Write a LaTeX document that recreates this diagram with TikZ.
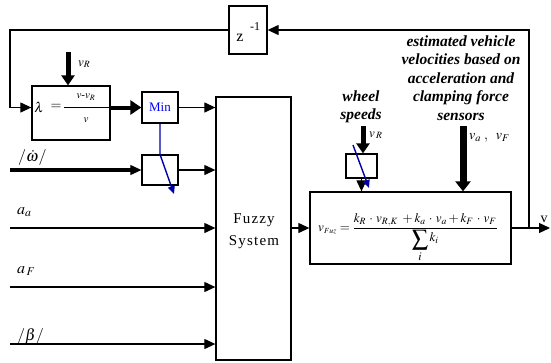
\documentclass[tikz,border=0pt]{standalone}
\usepackage{amsmath}
\usepackage{mathptmx}
\usepackage{fontspec}
\setmainfont{Liberation Serif}
\usetikzlibrary{arrows.meta,calc}

\begin{document}
\begin{tikzpicture}[x=1pt,y=-1pt,
  blk/.style={draw, line width=1.3pt, inner sep=0pt, minimum width=#1},
  wire/.style={line width=1.2pt, -{Triangle[length=11pt,width=10pt]}},
  fatwire/.style={line width=4pt, -{Triangle[length=11pt,width=14pt]}},
  feed/.style={line width=5pt, -{Triangle[length=10pt,width=13pt]}},
  sensfeed/.style={line width=7pt, -{Triangle[length=10pt,width=15pt]}},
  sel/.style={draw=blue!65!black, line width=1.4pt, -{Triangle[length=8pt,width=7pt]}},
  lbl/.style={inner sep=0pt, font=\fontsize{14}{14}\selectfont},
  note/.style={inner sep=0pt, align=center, font=\fontsize{15.5}{18.4}\selectfont\bfseries\itshape}
]
\useasboundingbox (0,0) rectangle (551,362);

% blocks
\node[blk=38pt, minimum height=48pt] (zbox) at (248,30) {};
\node[blk=78pt, minimum height=54pt] (lam) at (71,113) {};
\node[blk=36pt, minimum height=31pt, text=blue, font=\fontsize{13}{13}\selectfont] (mn) at (160,107.5) {Min};
\node[blk=36pt, minimum height=30pt] (sw1) at (160,170) {};
\node[blk=75pt, minimum height=263pt] (fz) at (253.5,228.5) {};
\node[blk=201pt, minimum height=72pt] (form) at (410.5,228) {};
\node[blk=31pt, minimum height=24pt] (wh) at (361.5,166) {};

% delay block text
\node[lbl, anchor=base] (zt) at (240,41) {\fontsize{16}{16}\selectfont z};
\node[lbl, anchor=base] (zexp) at (255,30) {\fontsize{12}{12}\selectfont -1};

% slip ratio inside the lambda block
\node[lbl] (lsym) at (39,107) {$\lambda$};
\node[lbl] (leq) at (56,107) {$=$};
\node[inner sep=0pt, font=\fontsize{11}{11}\selectfont] (lnum) at (86,97) {$v\text{-}v_R$};
\node[inner sep=0pt, font=\fontsize{11}{11}\selectfont] (lden) at (86,120) {$v$};
\coordinate (barL) at (64,107);
\draw[line width=1pt] (barL) -- (barL -| lam.east);

% fuzzy system label
\node[inner sep=0pt, align=center, font=\fontsize{15}{22}\selectfont\addfontfeature{LetterSpace=8}] (fzt) at (254,231) {Fuzzy\\System};

% fusion formula, fraction bar on the signal line
\node[inner sep=0pt, anchor=base, font=\fontsize{13}{13}\selectfont] (ft) at (408,231.3)
  {$v_{\scriptscriptstyle Fuz}=\dfrac{k_R\,\cdot\,v_{R,K}\;+k_a\,\cdot\,v_a+k_F\,\cdot\,v_F}{\raisebox{-2pt}{\fontsize{16}{16}\selectfont$\displaystyle\sum_i$}\,k_i}$};

% feedback loop
\coordinate (jn) at (529,228);
\coordinate (out) at (550,228);
\coordinate (fbL) at (10,30);
\draw[line width=1.2pt] (form.east) -- (jn);
\draw[wire] (jn) -- (out);
\draw[wire] (jn) |- (zbox.east);
\draw[wire] (zbox.west) -- (fbL) |- (mn.west -| lam.west);
\node[lbl, anchor=base] (vout) at (544,222) {v};

% lambda to min selector
\draw[fatwire] (lam.east |- mn.west) -- (mn.west);
\draw[wire] (mn.east) -- (mn.east -| fz.west);

% wheel angular acceleration input
\coordinate (wIn) at (10,170);
\draw[line width=4pt] (wIn) -- ($(sw1.west)+(-10,0)$);
\draw[wire] (wIn) -- (sw1.west);
\draw[wire] (sw1.east) -- (sw1.east -| fz.west);
\node[lbl, anchor=base west] (wl) at (18,161) {\fontsize{16}{16}\selectfont$/\dot{\omega}/$};

% selector line
\coordinate (selEnd) at (174,194);
\draw[sel] (mn.south) -- (sw1.north) -- (selEnd);

% remaining inputs
\coordinate (aaIn) at (10,228);
\coordinate (afIn) at (10,287);
\coordinate (bIn) at (10,344);
\draw[wire] (aaIn) -- (aaIn -| fz.west);
\draw[wire] (afIn) -- (afIn -| fz.west);
\draw[wire] (bIn) -- (bIn -| fz.west);
\node[lbl, anchor=base west] (aal) at (17,214) {\fontsize{16}{16}\selectfont$a_a$};
\node[lbl, anchor=base west] (afl) at (17,273) {\fontsize{16}{16}\selectfont$a_{\,F}$};
\node[lbl, anchor=base west] (bl) at (17,340) {\fontsize{16}{16}\selectfont$/\beta/$};

% reference speed into lambda block
\coordinate (vRtop) at (68,52);
\draw[feed] (vRtop) -- (vRtop |- lam.north);
\node[lbl, anchor=base west] (vRl) at (78,66) {\fontsize{13}{13}\selectfont$v_R$};

% fuzzy output to fusion block
\draw[wire] (fz.east |- form.west) -- (form.west);

% wheel speeds
\coordinate (whTop) at (363,126);
\draw[feed] (whTop) -- (whTop |- wh.north);
\draw[wire] (wh.south) -- (wh.south |- form.north);
\coordinate (whS1) at (353,145);
\coordinate (whS2) at (369,188);
\draw[sel] (whS1) -- (whS2);
\node[lbl, anchor=base west] (whvR) at (369,137) {\fontsize{13}{13}\selectfont$v_{\,R}$};
\node[note] (whn) at (361,107) {wheel\\speeds};

% vehicle speed estimates
\coordinate (sTop) at (463,126);
\draw[sensfeed] (sTop) -- (sTop |- form.north);
\node[lbl, anchor=base west] (sl) at (469,139) {\fontsize{14}{14}\selectfont$v_a\;,\;\;v_F$};
\node[note] (sn) at (461,78) {estimated vehicle\\velocities based on\\acceleration and\\clamping force\\sensors};
\end{tikzpicture}
\end{document}
